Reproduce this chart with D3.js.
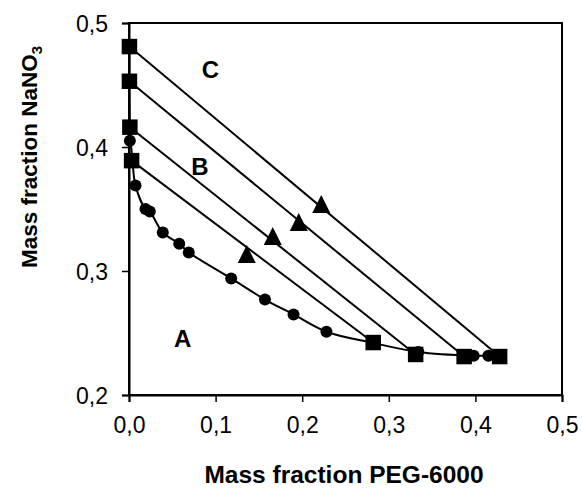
<!DOCTYPE html>
<html>
<head>
<meta charset="utf-8">
<script src="https://cdn.jsdelivr.net/npm/d3@7"></script>
<style>
  body { margin: 0; background: #fff; }
  text { font-family: Arial, "Liberation Sans", sans-serif; }
</style>
</head>
<body>
<div id="chart"></div>
<script>
// binodal curve (smoothed line)
const binodalX = [0.0005, 0.0005, 0.001, 0.002, 0.004, 0.0075, 0.019, 0.024, 0.039, 0.058, 0.069, 0.118, 0.157, 0.190, 0.228, 0.282, 0.334, 0.398, 0.415, 0.428]
const binodalY = [0.481, 0.453, 0.416, 0.405, 0.389, 0.369, 0.350, 0.348, 0.331, 0.322, 0.315, 0.294, 0.277, 0.265, 0.251, 0.242, 0.2347, 0.2317, 0.2317, 0.2312]

// experimental binodal points (circles)
const circleX = [0.001, 0.0075, 0.019, 0.024, 0.039, 0.058, 0.069, 0.118, 0.157, 0.190, 0.228, 0.334, 0.398, 0.415]
const circleY = [0.405, 0.369, 0.350, 0.348, 0.331, 0.322, 0.315, 0.294, 0.277, 0.265, 0.251, 0.2347, 0.2317, 0.2317]

// tie lines: top phase, bottom phase (squares), feed (triangles)
const topX = [0.003, 0.001, 0.0005, 0.0005]
const topY = [0.389, 0.416, 0.453, 0.481]
const botX = [0.282, 0.331, 0.387, 0.428]
const botY = [0.2423, 0.2327, 0.2310, 0.2310]
const feedX = [0.136, 0.166, 0.196, 0.222]
const feedY = [0.3137, 0.3282, 0.3395, 0.354]

const regionLabels = ['A', 'B', 'C']
const regionX = [0.062, 0.082, 0.094]
const regionY = [0.246, 0.384, 0.463]

const xTicks = [0, 0.1, 0.2, 0.3, 0.4, 0.5]
const yTicks = [0.2, 0.3, 0.4, 0.5]

const W = 582, H = 489
const mLeft = 129, mRight = 562, mTop = 23, mBottom = 395

const x = d3.scaleLinear().domain([0, 0.5]).range([mLeft, mRight])
const y = d3.scaleLinear().domain([0.2, 0.5]).range([mBottom, mTop])
const fmt = d => d3.format('.1f')(d).replace('.', ',')

const svg = d3.select('#chart').append('svg')
    .attr('width', W).attr('height', H)

// frame
svg.append('rect')
    .attr('x', mLeft).attr('y', mTop)
    .attr('width', mRight - mLeft).attr('height', mBottom - mTop)
    .attr('fill', 'none').attr('stroke', '#000').attr('stroke-width', 2)

const xAxis = svg.append('g')
    .attr('transform', `translate(0,${mBottom})`)
    .call(d3.axisBottom(x).tickValues(xTicks).tickFormat(fmt).tickSize(7).tickPadding(15))
const yAxis = svg.append('g')
    .attr('transform', `translate(${mLeft},0)`)
    .call(d3.axisLeft(y).tickValues(yTicks).tickFormat(fmt).tickSize(7).tickPadding(14))

for (const ax of [xAxis, yAxis]) {
  ax.select('.domain').attr('stroke-width', 2)
  ax.selectAll('.tick line').attr('stroke-width', 1.5)
  ax.selectAll('.tick text')
      .attr('font-size', 23)
      .attr('font-family', 'Arial, "Liberation Sans", sans-serif')
      .attr('fill', '#000')
}
yAxis.selectAll('.tick text').attr('dy', '0.36em')

// binodal curve
const binodal = binodalX.map((d, i) => [d, binodalY[i]])
svg.append('path')
    .datum(binodal)
    .attr('fill', 'none').attr('stroke', '#000').attr('stroke-width', 2)
    .attr('d', d3.line().x(d => x(d[0])).y(d => y(d[1])).curve(d3.curveCatmullRom.alpha(0.5)))

// tie lines
const ties = topX.map((d, i) => ({x1: d, y1: topY[i], x2: botX[i], y2: botY[i]}))
svg.selectAll('line.tie').data(ties).enter().append('line')
    .attr('class', 'tie')
    .attr('x1', d => x(d.x1)).attr('y1', d => y(d.y1))
    .attr('x2', d => x(d.x2)).attr('y2', d => y(d.y2))
    .attr('stroke', '#000').attr('stroke-width', 2)

// circles
svg.selectAll('circle.pt').data(circleX).enter().append('circle')
    .attr('class', 'pt')
    .attr('cx', d => x(d)).attr('cy', (d, i) => y(circleY[i]))
    .attr('r', 6).attr('fill', '#000')

// squares
const sq = d3.symbol().type(d3.symbolSquare).size(15.5 * 15.5)
const squares = topX.map((d, i) => [d, topY[i]]).concat(botX.map((d, i) => [d, botY[i]]))
svg.selectAll('path.sq').data(squares).enter().append('path')
    .attr('class', 'sq')
    .attr('transform', d => `translate(${x(d[0])},${y(d[1])})`)
    .attr('d', sq).attr('fill', '#000')

// triangles (Excel style: box-centred, isosceles)
const excelTriangle = {
  draw(ctx, size) {
    const s = Math.sqrt(size) / 2
    ctx.moveTo(0, -s)
    ctx.lineTo(s, s)
    ctx.lineTo(-s, s)
    ctx.closePath()
  }
}
const tri = d3.symbol().type(excelTriangle).size(18 * 18)
svg.selectAll('path.tri').data(feedX).enter().append('path')
    .attr('class', 'tri')
    .attr('transform', (d, i) => `translate(${x(d)},${y(feedY[i])})`)
    .attr('d', tri).attr('fill', '#000')

// region labels
svg.selectAll('text.region').data(regionLabels).enter().append('text')
    .attr('class', 'region')
    .attr('x', (d, i) => x(regionX[i])).attr('y', (d, i) => y(regionY[i]))
    .attr('text-anchor', 'middle').attr('dy', '0.36em')
    .attr('font-size', 24).attr('font-weight', 'bold')
    .text(d => d)

// axis titles
svg.append('text')
    .attr('x', 344).attr('y', 483)
    .attr('text-anchor', 'middle')
    .attr('font-size', 24.5).attr('font-weight', 'bold')
    .text('Mass fraction PEG-6000')

const yt = svg.append('text')
    .attr('transform', 'translate(37,157) rotate(-90)')
    .attr('text-anchor', 'middle')
    .attr('font-size', 22.5).attr('font-weight', 'bold')
yt.append('tspan').text('Mass fraction NaNO')
yt.append('tspan').attr('font-size', 15).attr('dy', 5).text('3')
</script>
</body>
</html>
